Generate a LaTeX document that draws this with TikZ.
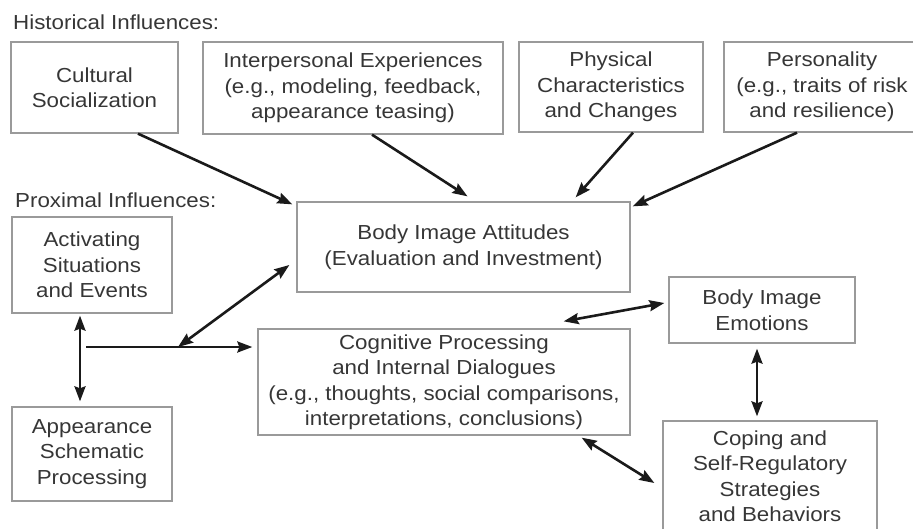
\documentclass[tikz,border=0pt]{standalone}
\usepackage{fontspec}
\setmainfont{Liberation Sans}[FakeStretch=1.1]
\usetikzlibrary{arrows.meta}
\definecolor{txtgray}{HTML}{363636}
\definecolor{linegray}{HTML}{9A9A9A}
\definecolor{arrowgray}{HTML}{1A1A1A}
\tikzset{
  >={Stealth[length=15pt,width=11pt,inset=2pt]},
  infobox/.style={draw=linegray, line width=1.3pt, align=center, text=txtgray,
    inner sep=0pt, font=\fontsize{20.3}{25.5}\selectfont},
  heading/.style={anchor=base west, text=txtgray, inner sep=0pt,
    font=\fontsize{20.3}{25.5}\selectfont},
  link/.style={draw=arrowgray, line width=2.6pt, ->},
  twolink/.style={link, <->}
}
\begin{document}
\begin{tikzpicture}[x=1pt,y=-1pt]
  \useasboundingbox (0,0) rectangle (913,528);
  % historical influences
  \node[heading] (histlbl) at (13,29) {Historical Influences:};
  \node[infobox, minimum width=167pt, minimum height=91pt] (cult) at (94.5,87.5) {Cultural\\Socialization};
  \node[infobox, minimum width=300pt, minimum height=92pt] (inter) at (353,88) {Interpersonal Experiences\\(e.g., modeling, feedback,\\appearance teasing)};
  \node[infobox, minimum width=184pt, minimum height=90pt] (phys) at (611,87) {Physical\\Characteristics\\and Changes};
  \node[infobox, minimum width=196pt, minimum height=90pt] (pers) at (822,87) {Personality\\(e.g., traits of risk\\and resilience)};
  % proximal influences
  \node[heading] (proxlbl) at (15,207) {Proximal Influences:};
  \node[infobox, minimum width=160pt, minimum height=96pt] (act) at (92,265) {Activating\\Situations\\and Events};
  \node[infobox, minimum width=160pt, minimum height=94pt] (app) at (92,454) {Appearance\\Schematic\\Processing};
  % body image
  \node[infobox, minimum width=333pt, minimum height=90pt] (att) at (463.5,247) {Body Image Attitudes\\(Evaluation and Investment)};
  \node[infobox, minimum width=372pt, minimum height=106pt] (cog) at (444,382) {Cognitive Processing\\and Internal Dialogues\\(e.g., thoughts, social comparisons,\\interpretations, conclusions)};
  \node[infobox, minimum width=186pt, minimum height=66pt] (emo) at (762,310) {Body Image\\Emotions};
  \node[infobox, minimum width=214pt, minimum height=110pt] (cop) at (770,476) {Coping and\\Self-Regulatory\\Strategies\\and Behaviors};
  % arrows
  \draw[link] ([xshift=43.5pt]cult.south) -- ([shift={(-4pt,-3pt)}]att.north west);
  \draw[link] ([xshift=19pt]inter.south) -- ([shift={(4pt,5pt)}]att.north);
  \draw[link] ([xshift=22pt]phys.south) -- ([shift={(-55pt,4pt)}]att.north east);
  \draw[link] ([xshift=-25pt]pers.south) -- ([shift={(2pt,-5pt)}]att.north east);
  \coordinate (jstart) at (86,347);
  \coordinate (junc) at (178,347);
  \draw[link, shorten >=5pt] (jstart) -- (cog.west |- jstart);
  \draw[twolink] (junc) -- ([shift={(-7pt,-18pt)}]att.west);
  \draw[twolink, shorten <=2pt, shorten >=5pt] ([xshift=-12pt]act.south) -- ([xshift=-12pt]app.north);
  \draw[twolink] ([shift={(-67pt,7pt)}]cog.north east) -- ([shift={(-4pt,7pt)}]emo.west);
  \draw[twolink, shorten <=5pt, shorten >=4pt] ([xshift=-5pt]emo.south) -- ([xshift=-5pt]emo.south |- cop.north);
  \draw[twolink] ([shift={(-49pt,-2pt)}]cog.south east) -- ([shift={(-8pt,-7pt)}]cop.west);
\end{tikzpicture}
\end{document}
